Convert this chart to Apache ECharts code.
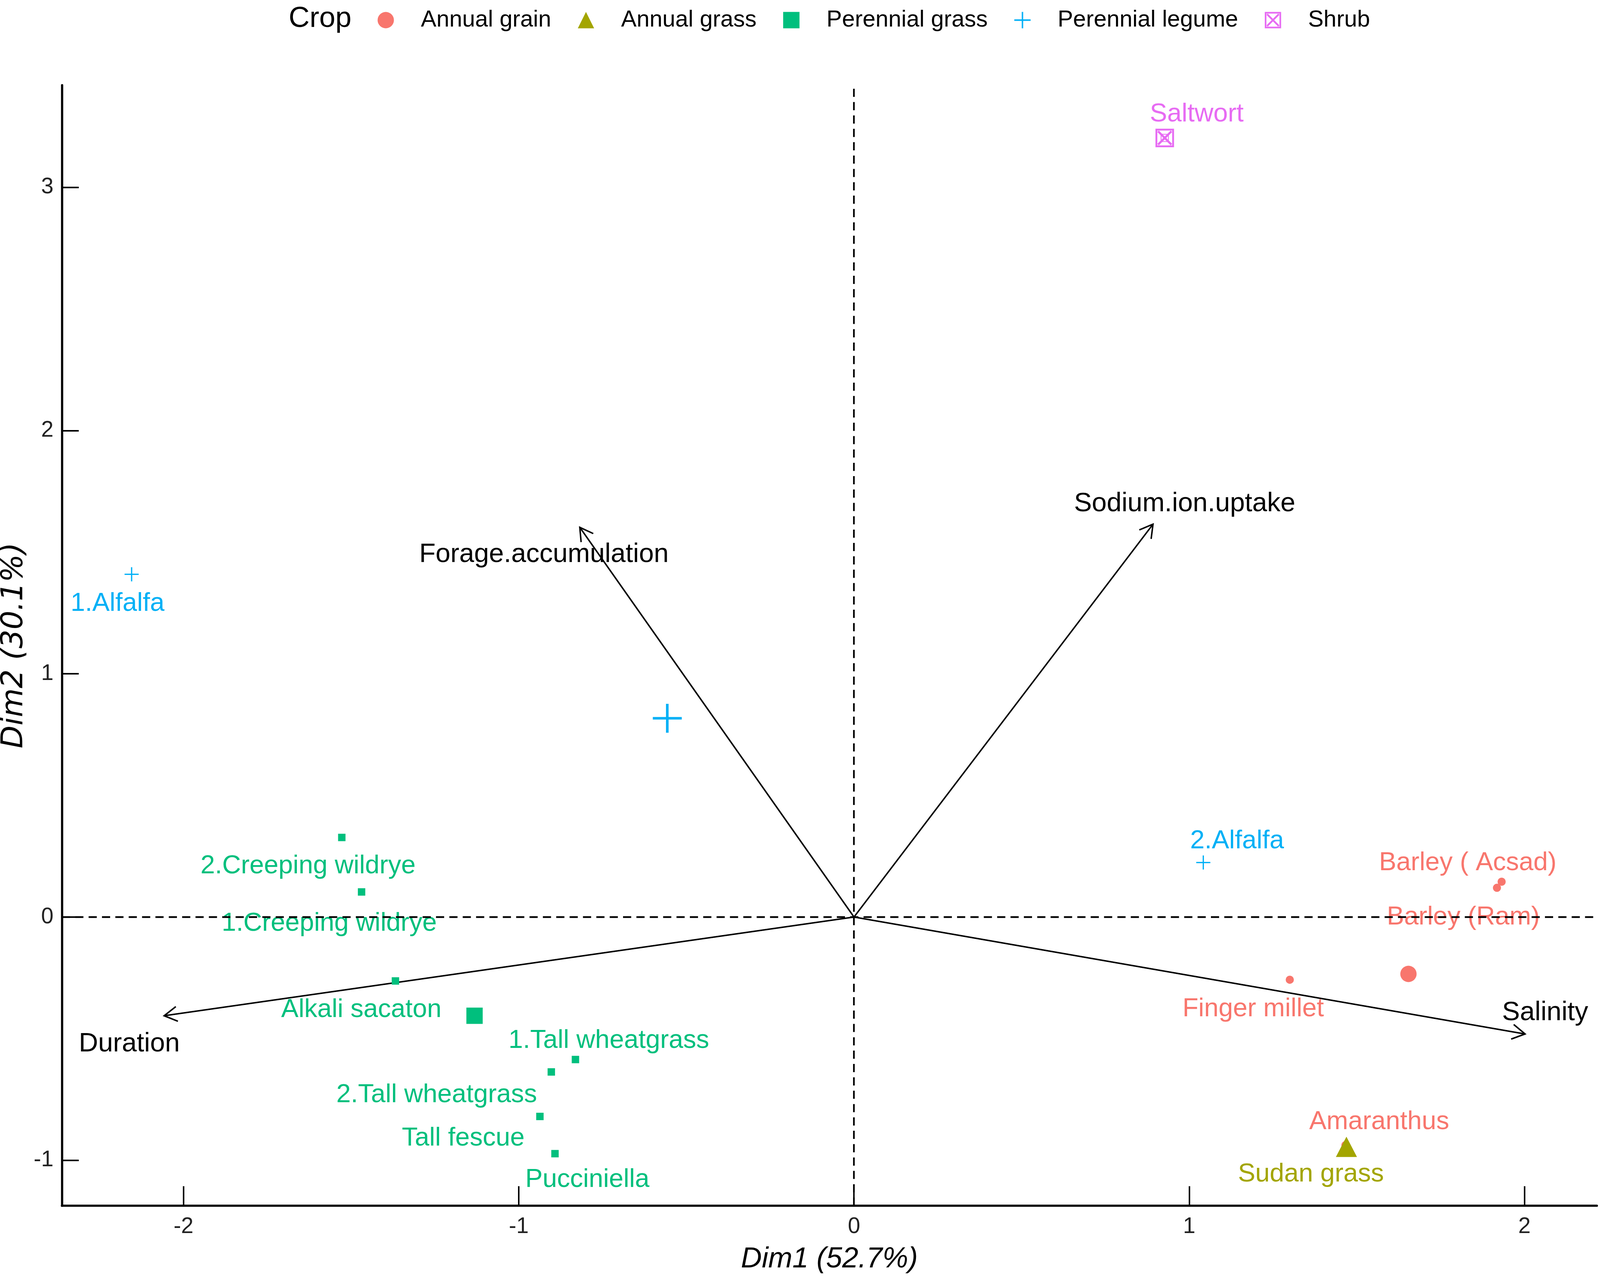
<!DOCTYPE html>
<html>
<head>
<meta charset="utf-8">
<style>
  html, body { margin: 0; padding: 0; background: #fff; overflow: hidden; }
  #chart { width: 100vw; height: 100vh; }
</style>
<script src="https://cdn.jsdelivr.net/npm/echarts@6/dist/echarts.min.js"></script>
</head>
<body>
<div id="chart"></div>
<script>
// crop groups
const cropNames = ['Annual grain', 'Annual grass', 'Perennial grass', 'Perennial legume', 'Shrub'];
const cropColors = ['#F8766D', '#A3A500', '#00BF7D', '#00B0F6', '#E76BF3'];

// individuals (PCA scores)
const indNames = [
  'Barley ( Acsad)', 'Barley (Ram)', 'Finger millet', 'Amaranthus',
  'Sudan grass',
  '2.Creeping wildrye', '1.Creeping wildrye', 'Alkali sacaton', '1.Tall wheatgrass',
  '2.Tall wheatgrass', 'Tall fescue', 'Pucciniella',
  '1.Alfalfa', '2.Alfalfa',
  'Saltwort'
];
const indDim1 = [1.918, 1.932, 1.300, 1.466, 1.469, -1.528, -1.469, -1.368, -0.831, -0.903, -0.937, -0.892, -2.155, 1.042, 0.927];
const indDim2 = [0.120, 0.145, -0.258, -0.938, -0.945, 0.327, 0.103, -0.263, -0.586, -0.637, -0.820, -0.973, 1.409, 0.224, 3.203];
const indCrop = [0, 0, 0, 0, 1, 2, 2, 2, 2, 2, 2, 2, 3, 3, 4];

// group centroids
const centroidDim1 = [1.654, 1.469, -1.132, -0.557, 0.927];
const centroidDim2 = [-0.234, -0.945, -0.406, 0.817, 3.203];

// variable loadings (arrows)
const varNames = ['Forage.accumulation', 'Sodium.ion.uptake', 'Duration', 'Salinity'];
const varDim1 = [-0.818, 0.892, -2.058, 2.002];
const varDim2 = [1.602, 1.615, -0.406, -0.481];

// axis ticks
const xTicks = [-2, -1, 0, 1, 2];
const yTicks = [-1, 0, 1, 2, 3];

// label placement (pixel offsets from the point on a 4550x3290 page, repel-like layout)
const indLabelOffsets = [
  [-83, -63], [-109, 91], [-104, 75], [96, -59],
  [-101, 70],
  [-96, 73], [-92, 81], [-97, 74], [95, -48], [-326, 59], [-218, 56], [92, 67],
  [-40, 75], [96, -55],
  [91, -60]
];
const varLabelOffsets = [[-102, 70], [90, -52], [-99, 73], [57, -54]];

// layout scales the 4550x3290 design to whatever the page really is
const el = document.getElementById('chart');
const W = el.clientWidth, H = el.clientHeight;
const k = W / 4550, ky = H / 3290;
const s = (k + ky) / 2;

const FONT = "'Liberation Sans', Arial, sans-serif";
const plusPath = 'path://M45.5,0H54.5V45.5H100V54.5H54.5V100H45.5V54.5H0V45.5H45.5Z';
const boxXPath = 'path://M0,0H100V100H0Z M10,10V90H90V10Z M10,18L18,10L90,82L82,90Z M82,10L90,18L18,90L10,82Z';
const cropSymbols = ['circle', 'triangle', 'rect', plusPath, boxXPath];
const pointSizes = [22, 24, 20, 38, 22];
const centroidSizes = [44, [60, 52], 44, 78, 50];
const sz = v => Array.isArray(v) ? [v[0] * k, v[1] * ky] : v * s;
const offs = o => [o[0] * k, o[1] * ky];

const series = [];

// dashed zero lines + variable arrows
series.push({
  type: 'custom',
  name: 'variables',
  z: 2,
  silent: true,
  data: varNames.map((n, i) => [varDim1[i], varDim2[i]]),
  renderItem: function (params, api) {
    const o = api.coord([0, 0]);
    const p = api.coord([api.value(0), api.value(1)]);
    const ang = Math.atan2(p[1] - o[1], p[0] - o[0]);
    const L = 40 * s, a = Math.PI / 6;
    const h1 = [p[0] - L * Math.cos(ang - a), p[1] - L * Math.sin(ang - a)];
    const h2 = [p[0] - L * Math.cos(ang + a), p[1] - L * Math.sin(ang + a)];
    const off = offs(varLabelOffsets[params.dataIndex]);
    return {
      type: 'group',
      children: [
        { type: 'line', shape: { x1: o[0], y1: o[1], x2: p[0], y2: p[1] }, style: { stroke: '#000', lineWidth: 4 * s } },
        { type: 'polyline', shape: { points: [h1, p, h2] }, style: { stroke: '#000', lineWidth: 4 * s, fill: null } },
        {
          type: 'text', x: p[0] + off[0], y: p[1] + off[1],
          style: {
            text: varNames[params.dataIndex], fill: '#000', fontSize: 72 * s, fontFamily: FONT,
            align: 'center', verticalAlign: 'middle'
          }
        }
      ]
    };
  },
  markLine: {
    silent: true,
    symbol: 'none',
    label: { show: false },
    lineStyle: { color: '#000', width: 4.5 * s, type: [22 * s, 14 * s] },
    data: [{ xAxis: 0 }, { yAxis: 0 }],
    animation: false
  }
});

// individuals, one series per crop
cropNames.forEach((crop, c) => {
  const data = [];
  indNames.forEach((n, i) => {
    if (indCrop[i] !== c) return;
    data.push({
      name: n,
      value: [indDim1[i], indDim2[i]],
      label: { offset: offs(indLabelOffsets[i]) }
    });
  });
  series.push({
    type: 'scatter',
    name: crop,
    z: 3,
    symbol: cropSymbols[c],
    symbolSize: sz(pointSizes[c]),
    itemStyle: { color: cropColors[c], opacity: 1 },
    label: {
      show: true,
      formatter: '{b}',
      position: 'inside',
      color: cropColors[c],
      fontSize: 70 * s,
      fontFamily: FONT
    },
    emphasis: { disabled: true },
    data: data
  });
});

// group centroids
cropNames.forEach((crop, c) => {
  series.push({
    type: 'scatter',
    name: crop,
    z: 4,
    symbol: cropSymbols[c],
    symbolSize: sz(centroidSizes[c]),
    itemStyle: { color: cropColors[c], opacity: 1 },
    emphasis: { disabled: true },
    data: [[centroidDim1[c], centroidDim2[c]]]
  });
});

// legend geometry: icon centre to text ~100px, text end to next icon centre ~99px
const iconSize = 44 * s;
const textPad = 100 * k - iconSize / 2 - 5;

const chart = echarts.init(el);
chart.setOption({
  backgroundColor: '#fff',
  animation: false,
  title: {
    text: 'Crop',
    left: 821 * k,
    top: 12 * ky,
    padding: 0,
    textStyle: { fontSize: 78 * s, fontWeight: 'normal', color: '#000', fontFamily: FONT }
  },
  legend: {
    data: cropNames.map((n, i) => ({ name: n, icon: cropSymbols[i] })),
    left: 1097 * k - iconSize / 2,
    top: 22 * ky,
    padding: 0,
    itemWidth: iconSize,
    itemHeight: iconSize,
    itemGap: 99 * k - iconSize / 2,
    selectedMode: false,
    textStyle: { fontSize: 62.5 * s, color: '#000', fontFamily: FONT, padding: [0, 0, 0, textPad] }
  },
  grid: { left: 176 * k, right: 9 * k, top: 218 * ky, bottom: 203 * ky, containLabel: false, outerBoundsMode: 'none' },
  xAxis: {
    type: 'value',
    min: -2.363,
    max: 2.216,
    name: 'Dim1 (52.7%)',
    nameLocation: 'middle',
    nameGap: 100 * ky,
    nameTextStyle: { fontSize: 78 * s, fontStyle: 'italic', color: '#000', fontFamily: FONT },
    axisLine: { show: true, onZero: false, lineStyle: { color: '#000', width: 6 * s } },
    axisTick: { show: true, inside: true, length: 50 * ky, customValues: xTicks, lineStyle: { color: '#000', width: 4 * s } },
    axisLabel: { customValues: xTicks, fontSize: 60 * s, color: '#222', margin: 26 * ky, fontFamily: FONT },
    splitLine: { show: false }
  },
  yAxis: {
    type: 'value',
    min: -1.187,
    max: 3.42,
    name: 'Dim2 (30.1%)',
    nameLocation: 'middle',
    nameGap: 80 * k,
    nameTextStyle: { fontSize: 76 * ky, fontStyle: 'italic', color: '#000', fontFamily: "'DejaVu Sans', sans-serif" },
    axisLine: { show: true, onZero: false, lineStyle: { color: '#000', width: 6 * s } },
    axisTick: { show: true, inside: true, length: 48 * k, customValues: yTicks, lineStyle: { color: '#000', width: 4 * s } },
    axisLabel: { customValues: yTicks, fontSize: 60 * s, color: '#222', margin: 24 * k, fontFamily: FONT },
    splitLine: { show: false }
  },
  series: series
});
</script>
</body>
</html>
